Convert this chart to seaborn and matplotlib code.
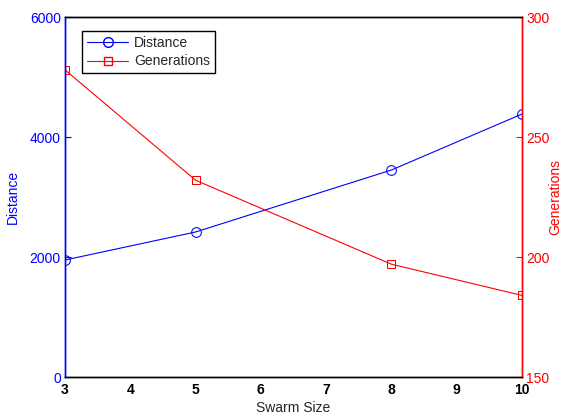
import pandas as pd
import seaborn as sns
import matplotlib.pyplot as plt
from matplotlib.lines import Line2D

swarm_size = [3, 5, 8, 10]
distance = [1950, 2417, 3450, 4383]
generations = [278, 232, 197, 184]

sns.set_style("white")
plt.rcParams['font.family'] = ['Liberation Sans', 'DejaVu Sans']
plt.rcParams['font.size'] = 10

df = pd.DataFrame({"swarm": swarm_size, "distance": distance,
                   "generations": generations})

fig = plt.figure(figsize=(5.66, 4.17), dpi=100)
ax = fig.add_axes([0.1148, 0.0959, 0.8074, 0.8633])
ax2 = ax.twinx()

sns.lineplot(data=df, x="swarm", y="distance", ax=ax, color="blue",
             marker="o", markersize=7, markerfacecolor="none",
             markeredgecolor="blue", linewidth=0.8)
sns.lineplot(data=df, x="swarm", y="generations", ax=ax2, color="red",
             marker="s", markersize=6, markerfacecolor="none",
             markeredgecolor="red", linewidth=0.8)

ax.set_xlim(3, 10)
ax.set_ylim(0, 6000)
ax2.set_ylim(150, 300)
ax.set_yticks([0, 2000, 4000, 6000])
ax2.set_yticks([150, 200, 250, 300])
ax.set_xticks(range(3, 11))

ax.set_xlabel("Swarm Size", fontsize=10, labelpad=3)
ax.set_ylabel("Distance", color="blue", fontsize=10, labelpad=7)
ax2.set_ylabel("Generations", color="red", fontsize=10, rotation=90,
               va="center")
ax2.yaxis.set_label_coords(1.073, 0.5)

for lab in ax.get_xticklabels():
    lab.set_fontweight("bold")
ax.tick_params(axis="x", direction="in", length=4, colors="black",
               labelsize=10, pad=4)
ax.tick_params(axis="y", direction="in", length=4, colors="blue",
               labelsize=10, pad=3)
ax2.tick_params(axis="y", direction="in", length=4, colors="red",
                labelsize=10, pad=3)

for a in (ax, ax2):
    a.spines["top"].set_color("black")
    a.spines["bottom"].set_color("black")
    a.spines["left"].set_color("blue")
    a.spines["right"].set_color("red")
    for s in a.spines.values():
        s.set_linewidth(1.0)

handles = [
    Line2D([], [], color="blue", marker="o", markerfacecolor="none",
           markersize=7, linewidth=0.8),
    Line2D([], [], color="red", marker="s", markerfacecolor="none",
           markersize=6, linewidth=0.8),
]
leg = ax.legend(handles, ["Distance", "Generations"], loc="upper left",
                bbox_to_anchor=(0.037, 0.962), fancybox=False, framealpha=1,
                edgecolor="black", fontsize=10, handlelength=3.0,
                borderpad=0.35, labelspacing=0.35, handletextpad=0.4,
                borderaxespad=0)
leg.get_frame().set_linewidth(1.0)
if ax2.get_legend() is not None:
    ax2.get_legend().remove()

fig.savefig("out.png", dpi=100)
